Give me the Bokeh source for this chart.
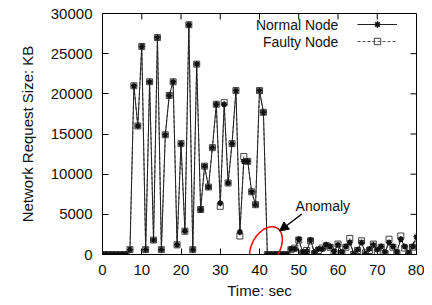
import numpy as np
from bokeh.plotting import figure
from bokeh.models import (Range1d, FixedTicker, Legend, LegendItem,
                          Label, Arrow, NormalHead, PolyAnnotation)
from bokeh.embed import file_html
from bokeh.resources import INLINE

# ---- data ----
time_sec = list(range(0, 81))
normal_node = [0, 0, 0, 0, 0, 0, 0, 600, 21000, 16000,
               25900, 600, 21500, 1800, 27000, 600, 14900, 19800, 21500, 1200,
               13800, 2900, 28600, 600, 23700, 5600, 11000, 8400, 13300, 18700,
               6400, 18700, 8900, 13800, 20400, 2800, 11600, 11600, 7800, 6200,
               20400, 17700, 0, 0, 0, 0, 0, 0, 700, 700,
               1900, 300, 400, 1800, 300, 700, 700, 1200, 1000, 400,
               1200, 300, 1000, 1500, 100, 600, 1500, 100, 700, 1200,
               600, 1000, 300, 1500, 1000, 300, 1900, 1000, 200, 1000,
               2200]
faulty_node = [0, 0, 0, 0, 0, 0, 0, 600, 21000, 16000,
               25900, 600, 21500, 1800, 27000, 600, 14900, 19800, 21500, 1200,
               13800, 2900, 28600, 600, 23700, 5600, 11000, 8400, 13300, 18700,
               6000, 18900, 8900, 13800, 20400, 2300, 12200, 11600, 7800, 6200,
               20400, 17700, 0, 0, 0, 0, 0, 0, 600, 800,
               1800, 200, 500, 1700, 100, 500, 800, 1100, 900, 200,
               1300, 100, 900, 2000, 0, 500, 1700, 200, 500, 1300,
               400, 900, 100, 1900, 900, 200, 2300, 800, 100, 900,
               1200]
x_ticks = [0, 10, 20, 30, 40, 50, 60, 70, 80]
y_ticks = [0, 5000, 10000, 15000, 20000, 25000, 30000]

FONT = "Liberation Sans"
X0, X1, Y0, Y1 = 0, 80, 0, 30000

p = figure(width=424, height=303, output_backend="svg", toolbar_location=None,
           x_range=Range1d(X0, X1), y_range=Range1d(Y0, Y1),
           min_border_left=102, min_border_right=8, min_border_top=13, min_border_bottom=49)
p.xgrid.visible = False
p.ygrid.visible = False
p.outline_line_color = "black"
p.outline_line_width = 1
p.background_fill_color = "white"

for ax, ticks in ((p.xaxis[0], x_ticks), (p.yaxis[0], y_ticks)):
    ax.ticker = FixedTicker(ticks=ticks)
    ax.major_tick_in = 6
    ax.major_tick_out = 0
    ax.minor_tick_line_color = None
    ax.axis_line_color = "black"
    ax.major_tick_line_color = "black"
    ax.major_label_text_font = FONT
    ax.major_label_text_font_size = "15px"
    ax.major_label_text_color = "#111111"
    ax.axis_label_text_font = FONT
    ax.axis_label_text_font_size = "15px"
    ax.axis_label_text_font_style = "normal"
    ax.axis_label_text_color = "#111111"

p.xaxis.axis_label = "Time: sec"
p.yaxis.axis_label = "Network Request Size: KB"
p.xaxis.major_label_standoff = 10
p.xaxis.axis_label_standoff = 4
p.yaxis.major_label_standoff = 10
p.yaxis.axis_label_standoff = 12

# frame geometry (px per unit) for annotation sizes
px_x = (424 - 102 - 8) / (X1 - X0)
kb_per_px = (Y1 - Y0) / (303 - 13 - 49)

# mirrored inward ticks on top and right edges
tick_len = 6
p.segment(x0=x_ticks, y0=[Y1] * len(x_ticks), x1=x_ticks,
          y1=[Y1 - tick_len * kb_per_px] * len(x_ticks), line_color="black", line_width=1)
p.segment(x0=[X1] * len(y_ticks), y0=y_ticks, x1=[X1 - tick_len / px_x] * len(y_ticks),
          y1=y_ticks, line_color="black", line_width=1)

# data
fl = p.line(time_sec, faulty_node, line_color="#555555", line_width=1, line_dash="3 2")
fs = p.scatter(time_sec, faulty_node, marker="square", size=6, fill_color="white",
               fill_alpha=0, line_color="#444444", line_width=1)
nl = p.line(time_sec, normal_node, line_color="#222222", line_width=1)
ns = p.scatter(time_sec, normal_node, marker="asterisk", size=6, line_color="#111111",
               line_width=1.5)

legend = Legend(items=[LegendItem(label=" ", renderers=[nl, ns]),
                       LegendItem(label=" ", renderers=[fl, fs])],
                location="top_right", glyph_width=40, glyph_height=16,
                label_height=16, label_width=11, label_standoff=5, padding=3,
                margin=0, spacing=1, border_line_alpha=0, background_fill_alpha=0,
                label_text_font_size="10px")
p.add_layout(legend)

for txt, yv in (("Normal Node", 28570), ("Faulty Node", 26450)):
    p.add_layout(Label(x=60.1, y=yv, text=txt, text_align="right", text_baseline="middle",
                       text_font=FONT, text_font_size="14px", text_color="#111111"))

# anomaly annotation: tilted red ellipse
cx, cy = 41.65, 930
t = np.linspace(0, 2 * np.pi, 90)
a_px, b_px, ang = 14.0, 22.0, np.deg2rad(-30)
ex = a_px * np.cos(t)
ey = b_px * np.sin(t)
rx = ex * np.cos(ang) - ey * np.sin(ang)
ry = ex * np.sin(ang) + ey * np.cos(ang)
p.add_layout(PolyAnnotation(xs=list(cx + rx / px_x), ys=list(cy + ry * kb_per_px),
                            fill_alpha=0, line_color="red", line_alpha=1.0, line_width=1.5))

p.add_layout(Arrow(end=NormalHead(size=9, fill_color="black", line_color="black"),
                   x_start=50.8, y_start=5040, x_end=45.1, y_end=2925,
                   line_color="black", line_width=1.5))
p.add_layout(Label(x=49.2, y=6040, text="Anomaly", text_align="left", text_baseline="middle",
                   text_font=FONT, text_font_size="14px", text_color="#111111"))

open("out.html", "w").write(file_html(p, INLINE))
